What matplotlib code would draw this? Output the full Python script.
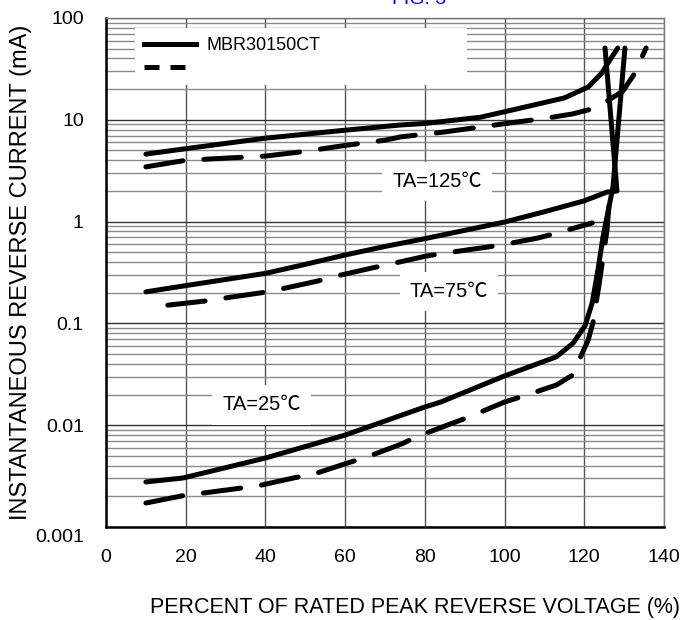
import matplotlib
matplotlib.use("Agg")
import matplotlib.pyplot as plt
from matplotlib.lines import Line2D
from matplotlib.patches import Rectangle
import matplotlib.transforms as mtransforms

plt.rcParams['font.family'] = ['Liberation Sans', 'Noto Sans CJK SC', 'DejaVu Sans']

# MBR30150CT (solid) curves
x_125_solid = [10, 20, 40, 60, 74, 80, 94, 102, 115, 121, 124.4, 126.4, 128.4]
y_125_solid = [4.6, 5.2, 6.6, 7.9, 8.9, 9.2, 10.6, 12.5, 16.4, 21, 28.8, 38.6, 50.7]

x_75_solid = [10, 20, 30, 40, 50, 60, 70, 80, 90, 100, 110, 120, 125.7, 128.2, 125.2]
y_75_solid = [0.204, 0.235, 0.27, 0.31, 0.38, 0.47, 0.57, 0.68, 0.82, 0.99, 1.25, 1.6, 1.95, 2.0, 50.7]

x_25_solid = [10, 19.3, 40, 60, 80, 84, 100, 113, 117.2, 120.2, 122, 123.5, 124.7, 127.2, 130.2]
y_25_solid = [0.00277, 0.00303, 0.00476, 0.008, 0.0151, 0.0169, 0.0305, 0.047, 0.064, 0.095, 0.16, 0.35, 0.71, 2.2, 50.7]

# second device (dashed) curves
x_125_dash = [10, 20, 30, 40, 50, 60, 70, 74, 85, 95, 103, 110, 117, 122, 126, 129.7, 132.5, 135.5]
y_125_dash = [3.45, 4.0, 4.2, 4.4, 4.9, 5.6, 6.3, 6.8, 7.6, 8.6, 9.5, 10.3, 11.4, 12.8, 15.5, 19.2, 28, 50.7]

x_75_dash = [15.5, 25, 30, 39, 44, 53, 57.5, 66.7, 71, 80.5, 85, 94, 99.3, 108.4, 113, 122]
y_75_dash = [0.151, 0.166, 0.178, 0.2, 0.218, 0.26, 0.29, 0.35, 0.38, 0.46, 0.49, 0.55, 0.59, 0.69, 0.77, 0.97]

x_25_dash = [10, 19, 28, 38, 47, 52, 61, 65, 74, 78, 87, 91, 100, 104, 113, 117, 121, 122.2, 123.7, 125.7, 126.5]
y_25_dash = [0.00172, 0.00202, 0.00225, 0.00253, 0.00303, 0.0033, 0.0043, 0.0048, 0.0065, 0.0077, 0.0105, 0.012, 0.0169, 0.0189, 0.0248, 0.031, 0.069, 0.103, 0.24, 0.83, 2.0]

x_ticks = [0, 20, 40, 60, 80, 100, 120, 140]
y_ticks = [0.001, 0.01, 0.1, 1, 10, 100]
y_tick_labels = ['0.001', '0.01', '0.1', '1', '10', '100']

fig = plt.figure(figsize=(6.98, 6.2), dpi=100)
ax = fig.add_axes([0.1519, 0.15, 0.7994, 0.821])
ax.set_yscale('log')
ax.set_xlim(0, 140)
ax.set_ylim(0.001, 100)

# grid
ax.set_axisbelow(True)
ax.grid(True, which='major', axis='y', color='#333333', lw=1.0)
ax.grid(True, which='minor', axis='y', color='#8a8a8a', lw=1.0)
ax.grid(True, which='major', axis='x', color='#555555', lw=1.0)
ax.tick_params(which='both', length=0)
ax.set_xticks(x_ticks)
ax.set_xticklabels([str(v) for v in x_ticks])
ax.set_yticks(y_ticks)
ax.set_yticklabels(y_tick_labels)
ax.tick_params(axis='x', pad=16, labelsize=14)
ax.tick_params(axis='y', pad=16, labelsize=14)

# lower the 0.001 label like in the original
lbl = ax.get_yticklabels()[0]
lbl.set_transform(lbl.get_transform() + mtransforms.ScaledTranslation(0, -9 / 100, fig.dpi_scale_trans))

for s in ['left', 'bottom']:
    ax.spines[s].set_linewidth(1.8)
    ax.spines[s].set_color('black')
for s in ['top', 'right']:
    ax.spines[s].set_linewidth(1.0)
    ax.spines[s].set_color('#777777')

lw = 3.6
kw_s = dict(color='black', lw=lw, solid_capstyle='round', solid_joinstyle='round', zorder=3)
kw_d = dict(color='black', lw=lw, dashes=(7.5, 4.2), dash_capstyle='round', zorder=3)
ax.plot(x_125_solid, y_125_solid, **kw_s)
ax.plot(x_75_solid, y_75_solid, **kw_s)
ax.plot(x_25_solid, y_25_solid, **kw_s)
ax.plot(x_125_dash, y_125_dash, **kw_d)
ax.plot(x_75_dash, y_75_dash, **kw_d)
ax.plot(x_25_dash, y_25_dash, **kw_d)

# legend area (white, covers the grid)
ax.add_patch(Rectangle((0.052, 0.868), 0.595, 0.112, transform=ax.transAxes,
                       facecolor='white', edgecolor='none', zorder=1))
handles = [Line2D([], [], color='black', lw=lw),
           Line2D([], [], color='black', lw=lw, dashes=(3, 2.2))]
leg = ax.legend(handles, ['MBR30150CT', ''], loc='upper left', bbox_to_anchor=(0.055, 0.977),
                frameon=False, fontsize=13, handlelength=2.9, handletextpad=0.55,
                labelspacing=0.38, borderaxespad=0)
leg.set_zorder(4)

box = dict(boxstyle='square,pad=0.5', facecolor='white', edgecolor='none')
ax.text(83, 2.5, 'TA=125℃', fontsize=14.5, ha='center', va='center', bbox=box, zorder=2.5)
ax.text(86, 0.204, 'TA=75℃', fontsize=14.5, ha='center', va='center', bbox=box, zorder=2.5)
ax.text(39, 0.0158, 'TA=25℃', fontsize=14.5, ha='center', va='center', bbox=box, zorder=2.5)

ax.set_xlabel('PERCENT OF RATED PEAK REVERSE VOLTAGE (%)', fontsize=15.5)
ax.xaxis.set_label_coords(0.554, -0.138)
ax.set_ylabel('INSTANTANEOUS REVERSE CURRENT (mA)', fontsize=17)
ax.yaxis.set_label_coords(-0.133, 0.5)

fig.text(0.60, 1.0, 'FIG. 3', color='#0000ff', fontsize=14, ha='center', va='center')

fig.savefig('out.png', dpi=100)
